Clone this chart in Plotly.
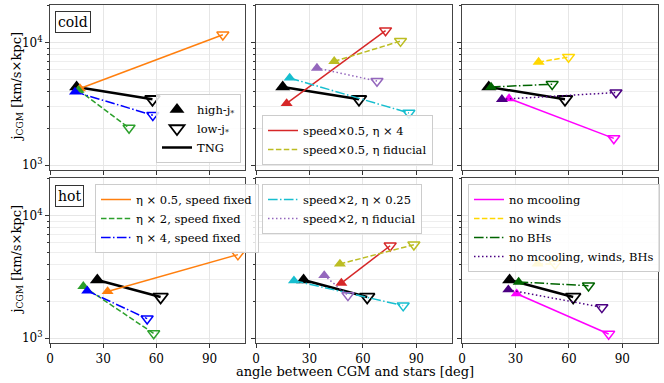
import plotly.graph_objects as go

# ---------------- data (angle [deg], j_CGM [km/s x kpc]); first = high-j*, second = low-j*
legend_names = {
    "eta05": "η × 0.5, speed fixed",
    "eta2": "η × 2, speed fixed",
    "eta4": "η × 4, speed fixed",
    "s05eta4": "speed×0.5, η × 4",
    "s05fid": "speed×0.5, η fiducial",
    "s2eta025": "speed×2, η × 0.25",
    "s2fid": "speed×2, η fiducial",
    "nomcool": "no mcooling",
    "nowinds": "no winds",
    "noBH": "no BHs",
    "noall": "no mcooling, winds, BHs",
}

cold_angle = {
    "TNG": [15.0, 57.8], "eta05": [16.9, 97.5], "eta2": [16.1, 44.6], "eta4": [14.1, 58.0],
    "s05eta4": [17.2, 72.7], "s05fid": [43.9, 81.1], "s2eta025": [18.9, 85.8], "s2fid": [34.2, 67.9],
    "nomcool": [26.4, 85.2], "nowinds": [43.0, 59.8], "noBH": [16.3, 50.6], "noall": [22.4, 86.4],
}
cold_j = {
    "TNG": [4330, 3440], "eta05": [4210, 11550], "eta2": [4080, 2010], "eta4": [3950, 2550],
    "s05eta4": [3180, 12500], "s05fid": [7010, 10250], "s2eta025": [5130, 2660], "s2fid": [6180, 4840],
    "nomcool": [3490, 1650], "nowinds": [6920, 7600], "noBH": [4330, 4560], "noall": [3440, 3900],
}
hot_angle = {
    "TNG": [26.7, 62.4], "eta05": [32.5, 106.0], "eta2": [18.8, 58.5], "eta4": [21.0, 54.8],
    "s05eta4": [47.9, 75.3], "s05fid": [47.1, 88.6], "s2eta025": [21.3, 82.6], "s2fid": [38.3, 51.6],
    "nomcool": [30.7, 82.3], "nowinds": [42.4, 52.3], "noBH": [31.8, 71.0], "noall": [26.0, 78.5],
}
hot_j = {
    "TNG": [2980, 2165], "eta05": [2400, 4790], "eta2": [2640, 1090], "eta4": [2430, 1440],
    "s05eta4": [2810, 5660], "s05fid": [4020, 5770], "s2eta025": [2940, 1840], "s2fid": [3240, 2230],
    "nomcool": [2300, 1080], "nowinds": [4020, 4020], "noBH": [2865, 2673], "noall": [2480, 1780],
}

panel_variants = [["eta05", "eta2", "eta4"],
                  ["s05eta4", "s05fid", "s2eta025", "s2fid"],
                  ["nomcool", "nowinds", "noBH", "noall"]]

x_ticks = [0, 30, 60, 90]
y_major = [1000, 10000]
y_major_text = ["10<sup>3</sup>", "10<sup>4</sup>"]
y_minor = [2000, 3000, 4000, 5000, 6000, 7000, 8000, 9000, 20000]

# ---------------- styles
DASH = "5.5px,2.4px"
DASHDOT = "9.6px,2.4px,1.5px,2.4px"
DOT = "1.5px,2.5px"
styles = {
    "TNG": ("black", "solid", 2.5),
    "eta05": ("#ff7f0e", "solid", 1.5),
    "eta2": ("#2ca02c", DASH, 1.5),
    "eta4": ("#0000ff", DASHDOT, 1.5),
    "s05eta4": ("#d62728", "solid", 1.5),
    "s05fid": ("#bcbd22", DASH, 1.5),
    "s2eta025": ("#17becf", DASHDOT, 1.5),
    "s2fid": ("#9467bd", DOT, 1.5),
    "nomcool": ("#ff00ff", "solid", 1.5),
    "nowinds": ("#ffd700", DASH, 1.5),
    "noBH": ("#006400", DASHDOT, 1.5),
    "noall": ("#4b0082", DOT, 1.5),
}

W, H = 664, 383
FONT = "DejaVu Serif"
xdom = [(50, 245), (256, 452), (462, 658)]
ydom = [(5, 170), (178, 343)]

fig = go.Figure()
layout = {}

legend_for = {  # (row, variant) -> legend id
    (1, "s05eta4"): "legend2", (1, "s05fid"): "legend2",
    (2, "eta05"): "legend3", (2, "eta2"): "legend3", (2, "eta4"): "legend3",
    (2, "s2eta025"): "legend4", (2, "s2fid"): "legend4",
    (2, "nomcool"): "legend5", (2, "nowinds"): "legend5", (2, "noBH"): "legend5", (2, "noall"): "legend5",
}

for r in range(2):
    angle = cold_angle if r == 0 else hot_angle
    jval = cold_j if r == 0 else hot_j
    for c in range(3):
        idx = r * 3 + c + 1
        sx = "" if idx == 1 else str(idx)
        xa, ya = "x" + sx, "y" + sx
        x0, x1 = xdom[c]
        y0, y1 = ydom[r]
        layout["xaxis" + sx] = dict(
            domain=[x0 / W, x1 / W], anchor=ya, range=[0, 110],
            tickvals=x_ticks, showticklabels=(r == 1), ticks="outside", ticklen=4,
            tickcolor="#333", showgrid=True, gridcolor="#e6e6e6", gridwidth=1,
            showline=True, linecolor="#444", linewidth=1.2, mirror=True, zeroline=False,
            tickfont=dict(family=FONT, size=12, color="black"),
        )
        layout["yaxis" + sx] = dict(
            domain=[1 - y1 / H, 1 - y0 / H], anchor=xa, type="log", range=[2.96, 4.305],
            tickmode="array", tickvals=y_major, ticktext=y_major_text,
            showticklabels=(c == 0), ticks="outside", ticklen=4, tickcolor="#333",
            showgrid=True, gridcolor="#e6e6e6", gridwidth=1,
            minor=dict(tickmode="array", tickvals=y_minor, ticks="outside", ticklen=2,
                       tickcolor="#333", showgrid=True, gridcolor="#eeeeee", gridwidth=1),
            showline=True, linecolor="#444", linewidth=1.2, mirror=True, zeroline=False,
            tickfont=dict(family=FONT, size=12, color="black"),
        )
        for v in ["TNG"] + panel_variants[c]:
            color, dash, lw = styles[v]
            leg_line = False
            leg_id = "legend"
            name = legend_names.get(v, "TNG")
            if v == "TNG":
                leg_line = (r == 0 and c == 0)
            elif (r + 1, v) in legend_for:
                leg_line = True
                leg_id = legend_for[(r + 1, v)]
            msize = 13 if v == "TNG" else 10.5
            if v == "TNG" and r == 0 and c == 0:
                fig.add_trace(go.Scatter(
                    x=[angle[v][0]], y=[jval[v][0]], mode="markers", xaxis=xa, yaxis=ya,
                    marker=dict(symbol="triangle-up", size=msize, color=color),
                    name="high-j<sub>*</sub>", showlegend=True, legend="legend"))
                fig.add_trace(go.Scatter(
                    x=[angle[v][1]], y=[jval[v][1]], mode="markers", xaxis=xa, yaxis=ya,
                    marker=dict(symbol="triangle-down-open", size=msize, color=color,
                                line=dict(width=1.8, color=color)),
                    name="low-j<sub>*</sub>", showlegend=True, legend="legend"))
                fig.add_trace(go.Scatter(
                    x=angle[v], y=jval[v], mode="lines", xaxis=xa, yaxis=ya,
                    line=dict(color=color, dash=dash, width=lw),
                    name=name, showlegend=True, legend="legend"))
                continue
            fig.add_trace(go.Scatter(
                x=angle[v], y=jval[v], mode="lines", xaxis=xa, yaxis=ya,
                line=dict(color=color, dash=dash, width=lw),
                name=name, showlegend=leg_line, legend=leg_id))
            fig.add_trace(go.Scatter(
                x=[angle[v][0]], y=[jval[v][0]], mode="markers", xaxis=xa, yaxis=ya,
                marker=dict(symbol="triangle-up", size=msize, color=color),
                showlegend=False))
            fig.add_trace(go.Scatter(
                x=[angle[v][1]], y=[jval[v][1]], mode="markers", xaxis=xa, yaxis=ya,
                marker=dict(symbol="triangle-down-open", size=msize, color=color,
                            line=dict(width=1.8 if v == "TNG" else 1.5, color=color)),
                showlegend=False))

leg_common = dict(bgcolor="rgba(255,255,255,0.85)", bordercolor="#cccccc", borderwidth=1,
                  font=dict(family=FONT, size=11.5, color="black"), itemwidth=30,
                  tracegroupgap=0)
layout["legend"] = dict(x=241 / W, y=1 - 163 / H, xanchor="right", yanchor="bottom", **leg_common)
layout["legend2"] = dict(x=262 / W, y=1 - 165 / H, xanchor="left", yanchor="bottom", **leg_common)
layout["legend3"] = dict(x=95 / W, y=1 - 184 / H, xanchor="left", yanchor="top", **leg_common)
layout["legend4"] = dict(x=262 / W, y=1 - 184 / H, xanchor="left", yanchor="top", **leg_common)
layout["legend5"] = dict(x=468 / W, y=1 - 184 / H, xanchor="left", yanchor="top", **leg_common)

annotations = [
    dict(text="cold", x=55 / W, y=1 - 11 / H, xref="paper", yref="paper", xanchor="left",
         yanchor="top", showarrow=False, font=dict(family=FONT, size=14, color="black"),
         bgcolor="white", bordercolor="#333", borderwidth=1, borderpad=2),
    dict(text="hot", x=55 / W, y=1 - 185 / H, xref="paper", yref="paper", xanchor="left",
         yanchor="top", showarrow=False, font=dict(family=FONT, size=14, color="black"),
         bgcolor="white", bordercolor="#333", borderwidth=1, borderpad=2),
    dict(text="angle between CGM and stars [deg]", x=355 / W, y=1 - 371 / H, xref="paper",
         yref="paper", xanchor="center", yanchor="middle", showarrow=False,
         font=dict(family=FONT, size=13, color="black")),
]
for (y0, y1) in ydom:
    annotations.append(dict(
        text="j<sub>CGM</sub> [km/s×kpc]", x=17 / W, y=1 - (y0 + y1) / 2 / H, xref="paper",
        yref="paper", xanchor="center", yanchor="middle", textangle=-90, showarrow=False,
        font=dict(family=FONT, size=13, color="black")))

fig.update_layout(
    width=W, height=H, margin=dict(l=0, r=0, t=0, b=0, autoexpand=False),
    paper_bgcolor="white", plot_bgcolor="white", annotations=annotations,
    font=dict(family=FONT), **layout)

fig.write_html("out.html", config={"displayModeBar": False},
               post_script="document.body.style.margin='0';document.body.style.padding='0';")
